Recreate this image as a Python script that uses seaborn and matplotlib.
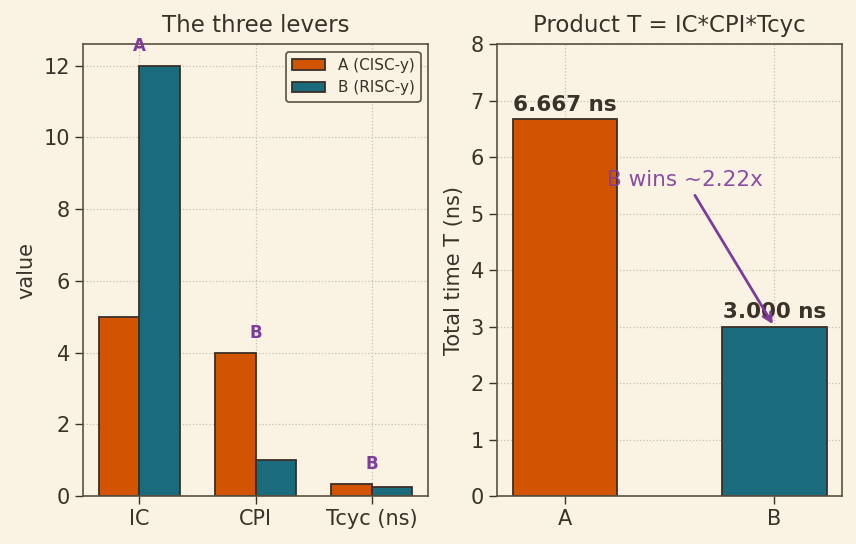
import numpy as np
import pandas as pd
import seaborn as sns
import matplotlib.pyplot as plt

# data
metrics = ['IC', 'CPI', 'Tcyc (ns)']
cpus = ['A (CISC-y)', 'B (RISC-y)']
vals_A = [5, 4, 1 / 3]
vals_B = [12, 1, 0.25]
machines = ['A', 'B']

bg = '#faf3e4'
ink = '#3b3128'
purple = '#7d3c98'
colors = ['#d35400', '#1a6b7c']

sns.set_theme(style='whitegrid')
plt.rcParams.update({
    'figure.facecolor': bg, 'axes.facecolor': bg, 'savefig.facecolor': bg,
    'axes.edgecolor': '#5c5040', 'axes.linewidth': 1.2,
    'text.color': ink, 'axes.labelcolor': ink,
    'xtick.color': ink, 'ytick.color': ink,
    'xtick.bottom': True, 'ytick.left': True,
    'xtick.major.size': 6, 'ytick.major.size': 6,
    'xtick.major.width': 1.0, 'ytick.major.width': 1.0,
    'grid.color': '#c8bfb0', 'grid.linestyle': ':', 'grid.linewidth': 0.9,
})
plt.rcParams['font.family'] = ['DejaVu Sans']

df = pd.DataFrame({
    'metric': metrics * 2,
    'cpu': [cpus[0]] * 3 + [cpus[1]] * 3,
    'value': vals_A + vals_B,
})

# product T = IC*CPI*Tcyc
T = [np.prod(vals_A), np.prod(vals_B)]
df_t = pd.DataFrame({'machine': machines, 'T': T})

fig, (ax1, ax2) = plt.subplots(1, 2, figsize=(8.56, 5.44), dpi=100)
fig.subplots_adjust(left=0.097, right=0.984, top=0.919, bottom=0.088, wspace=0.2)

# left: the three levers
sns.barplot(data=df, x='metric', y='value', hue='cpu', palette=colors, width=0.7,
            edgecolor='#3a2f28', linewidth=1.3, saturation=1, ax=ax1)
ax1.set_xlim(-0.485, 2.485)
ax1.set_title('The three levers', fontsize=16.5, color=ink, pad=8.5)
ax1.set_xlabel('')
ax1.set_ylabel('value', fontsize=15, labelpad=5)
ax1.tick_params(labelsize=15)
ax1.grid(True, axis='both')
leg = ax1.legend(loc='upper right', fontsize=11, frameon=True, facecolor=bg,
                 edgecolor='#5c5040', framealpha=1, handlelength=2.2)
leg.get_frame().set_linewidth(1.2)
for i, m in enumerate(metrics):
    winner = 'A' if vals_A[i] < vals_B[i] else 'B'
    top = max(vals_A[i], vals_B[i])
    ax1.text(i, top + 0.3, winner, ha='center', va='bottom', color=purple,
             fontsize=12, fontweight='bold')

# right: product
sns.barplot(data=df_t, x='machine', y='T', hue='machine', palette=colors, width=0.5,
            edgecolor='#3a2f28', linewidth=1.3, saturation=1, legend=False, ax=ax2)
ax2.set_xlim(-0.325, 1.325)
ax2.set_title('Product T = IC*CPI*Tcyc', fontsize=16.5, color=ink, pad=8.5)
ax2.set_xlabel('')
ax2.set_ylabel('Total time T (ns)', fontsize=15, labelpad=5)
ax2.set_ylim(0, 8)
ax2.tick_params(labelsize=15)
ax2.grid(True, axis='both')
for i, t in enumerate(T):
    ax2.text(i, t + 0.08, f'{t:.3f} ns', ha='center', va='bottom', fontsize=15.5,
             fontweight='bold', color=ink)
ax2.annotate(f'B wins ~{T[0] / T[1]:.2f}x', xy=(1, T[1]), xytext=(0.575, 5.6),
             ha='center', va='center', fontsize=15.5, color=purple, alpha=0.9,
             arrowprops=dict(arrowstyle='->', color=purple, lw=2))

for ax in (ax1, ax2):
    for s in ax.spines.values():
        s.set_color('#5c5040')
        s.set_linewidth(1.2)

plt.savefig('out.png', dpi=100)
